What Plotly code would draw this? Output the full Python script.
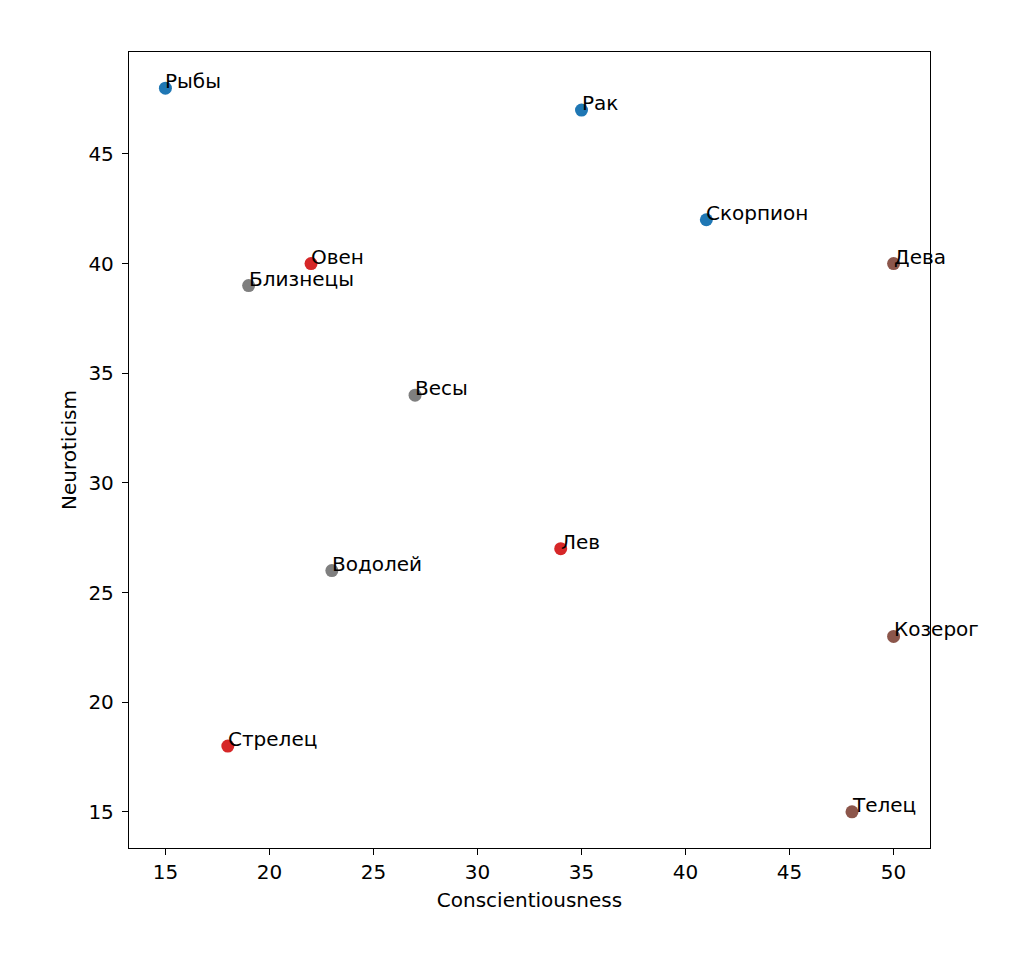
import plotly.graph_objects as go

signs = ["Рыбы", "Рак", "Скорпион", "Дева", "Овен", "Близнецы", "Весы",
         "Лев", "Водолей", "Козерог", "Стрелец", "Телец"]
conscientiousness = [15, 35, 41, 50, 22, 19, 27, 34, 23, 50, 18, 48]
neuroticism = [48, 47, 42, 40, 40, 39, 34, 27, 26, 23, 18, 15]
elements = ["water", "water", "water", "earth", "fire", "air", "air",
            "fire", "air", "earth", "fire", "earth"]
element_colors = {"water": "#1f77b4", "fire": "#d62728",
                  "air": "#7f7f7f", "earth": "#8c564b"}
x_ticks = [15, 20, 25, 30, 35, 40, 45, 50]
y_ticks = [15, 20, 25, 30, 35, 40, 45]

FONT = "DejaVu Sans"
FS = 20

fig = go.Figure()
fig.add_trace(go.Scatter(
    x=conscientiousness, y=neuroticism, mode="markers",
    marker=dict(size=13, color=[element_colors[e] for e in elements],
                line=dict(width=0)),
    showlegend=False, hoverinfo="text", text=signs,
))

for name, xv, yv in zip(signs, conscientiousness, neuroticism):
    fig.add_annotation(x=xv, y=yv, text=name, showarrow=False,
                       xanchor="left", yanchor="bottom",
                       xshift=-2, yshift=-7,
                       font=dict(family=FONT, size=FS, color="black"))

axis_common = dict(
    showgrid=False, zeroline=False, showline=True, mirror=True,
    linecolor="black", linewidth=1.3, ticks="outside", ticklen=6,
    tickwidth=1.3, tickcolor="black",
    tickfont=dict(family=FONT, size=FS, color="black"),
)

fig.update_xaxes(range=[13.25, 51.75], tickvals=x_ticks, ticklabelstandoff=0,
                 title=dict(text="Conscientiousness",
                            font=dict(family=FONT, size=FS, color="black"),
                            standoff=9),
                 **axis_common)
fig.update_yaxes(range=[13.35, 49.65], tickvals=y_ticks, ticklabelstandoff=4,
                 title=dict(text="Neuroticism",
                            font=dict(family=FONT, size=FS, color="black"),
                            standoff=6),
                 **axis_common)

fig.update_layout(
    width=1008, height=945,
    margin=dict(l=121, r=86, t=44, b=105, pad=0),
    plot_bgcolor="white", paper_bgcolor="white",
    font=dict(family=FONT, size=FS, color="black"),
)

fig.write_html("out.html")
